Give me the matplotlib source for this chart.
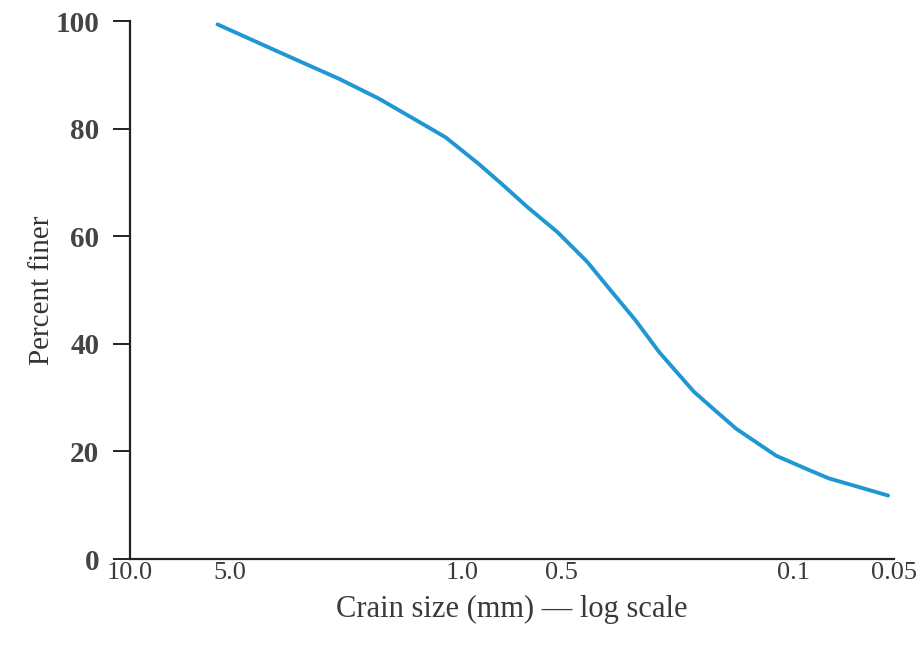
import matplotlib
matplotlib.use("Agg")
import matplotlib.pyplot as plt

# Data (grain size in mm, percent finer)
grain_size_mm = [5.45, 4.08, 3.10, 2.35, 1.78, 1.42, 1.12, 0.896, 0.764, 0.634,
                 0.516, 0.42, 0.358, 0.301, 0.254, 0.200, 0.171, 0.149, 0.113,
                 0.092, 0.0785, 0.063, 0.052]
percent_finer = [99.4, 95.9, 92.6, 89.3, 85.6, 82.1, 78.4, 73.6, 69.9, 65.4,
                 60.8, 55.3, 50.1, 44.5, 38.4, 31.1, 27.4, 24.2, 19.2,
                 16.8, 15.0, 13.3, 11.8]

x_ticks = [10.0, 5.0, 1.0, 0.5, 0.1, 0.05]
x_tick_labels = ["10.0", "5.0", "1.0", "0.5", "0.1", "0.05"]
y_ticks = [0, 20, 40, 60, 80, 100]
y_tick_labels = ["0", "20", "40", "60", "80", "100"]

plt.rcParams['font.family'] = ['Liberation Serif', 'DejaVu Serif']

fig = plt.figure(figsize=(9.19, 6.6), dpi=100)
ax = fig.add_axes([0.1415, 0.153, 0.831, 0.815])

ax.plot(grain_size_mm, percent_finer, color="#1f97d3", linewidth=2.8,
        solid_capstyle="round", solid_joinstyle="round")

ax.set_xscale("log")
ax.set_xlim(10.0, 0.05)
ax.set_ylim(0, 100)

ax.set_xticks(x_ticks)
ax.set_xticklabels(x_tick_labels, fontsize=19, color="#3a3a3a")
ax.minorticks_off()
ax.tick_params(axis="x", length=0, pad=2)

ax.set_yticks(y_ticks)
ax.set_yticklabels(y_tick_labels, fontsize=21, color="#444444",
                   fontweight="bold")
ax.tick_params(axis="y", direction="out", length=12, width=1.4, pad=10,
               color="#222222")

for side in ("top", "right"):
    ax.spines[side].set_visible(False)
for side in ("left", "bottom"):
    ax.spines[side].set_linewidth(1.6)
    ax.spines[side].set_color("#222222")

ax.set_ylabel("Percent finer", fontsize=21, color="#333333")
ax.yaxis.set_label_coords(-0.098, 0.5)
ax.set_xlabel("Crain size (mm) \u2014 log scale", fontsize=22,
              color="#3a3a3a", labelpad=8)

fig.savefig("out.png", dpi=100, facecolor="white")
